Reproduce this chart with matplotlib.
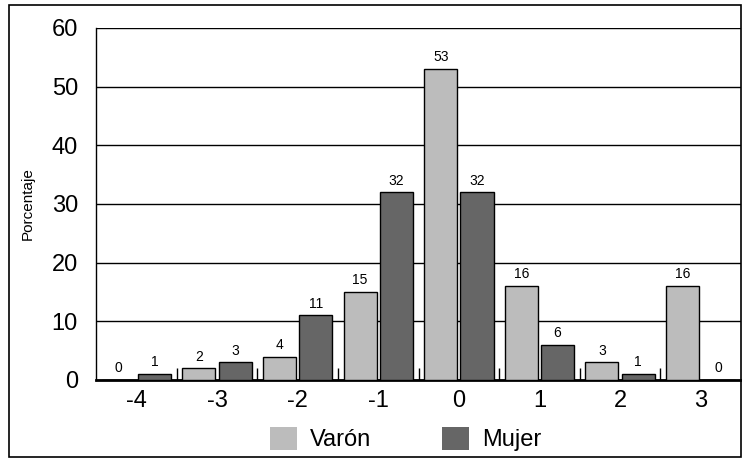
import numpy as np
import matplotlib.pyplot as plt
from matplotlib.patches import Patch, Rectangle

plt.rcParams["font.family"] = ["Liberation Sans", "DejaVu Sans"]

# datos
categorias = ["-4", "-3", "-2", "-1", "0", "1", "2", "3"]
varon = [0, 2, 4, 15, 53, 16, 3, 16]
mujer = [1, 3, 11, 32, 32, 6, 1, 0]

color_varon = "#bcbcbc"
color_mujer = "#666666"

fig = plt.figure(figsize=(7.42, 4.62), dpi=100)
ax = fig.add_axes([0.1294, 0.1775, 0.8693, 0.7619])

x = np.arange(len(categorias))
ancho = 0.41
off = 0.225

b1 = ax.bar(x - off, varon, ancho, color=color_varon, edgecolor="black", linewidth=1, zorder=3)
b2 = ax.bar(x + off, mujer, ancho, color=color_mujer, edgecolor="black", linewidth=1, zorder=3)

# etiquetas de valores
for barras in (b1, b2):
    for bar in barras:
        h = bar.get_height()
        ax.text(bar.get_x() + bar.get_width() / 2, h + 0.8, f"{int(h)}",
                ha="center", va="bottom", fontsize=10)

ax.set_xlim(-0.5, len(categorias) - 0.5)
ax.set_ylim(0, 60)
ax.set_yticks(range(0, 61, 10))
ax.yaxis.grid(True, color="black", linewidth=1, zorder=0)
ax.set_axisbelow(True)

ax.set_xticks(x)
ax.set_xticklabels(categorias, fontsize=17)
ax.set_xticks(np.arange(0.5, len(categorias) - 1, 1), minor=True)
ax.tick_params(axis="x", which="major", length=0, pad=7)
ax.tick_params(axis="x", which="minor", direction="in", length=9, width=1)
ax.tick_params(axis="y", length=0, labelsize=17, pad=13)

for lado in ("top", "right"):
    ax.spines[lado].set_visible(False)
ax.spines["left"].set_linewidth(1)
ax.spines["bottom"].set_linewidth(2)

ax.set_ylabel("Porcentaje", fontsize=11, labelpad=12)

handles = [Patch(facecolor=color_varon, label="Varón"),
           Patch(facecolor=color_mujer, label="Mujer")]
fig.legend(handles=handles, loc="center", bbox_to_anchor=(0.5465, 0.05), ncol=2,
           frameon=False, fontsize=17, handlelength=1.15, handleheight=1.15,
           columnspacing=3.0, handletextpad=0.55)

# marco exterior
fig.patches.append(Rectangle((9 / 742, 1 - 457 / 462), 732 / 742, 452 / 462,
                             transform=fig.transFigure, fill=False,
                             edgecolor="black", linewidth=1.2))

fig.savefig("out.png", dpi=100)
